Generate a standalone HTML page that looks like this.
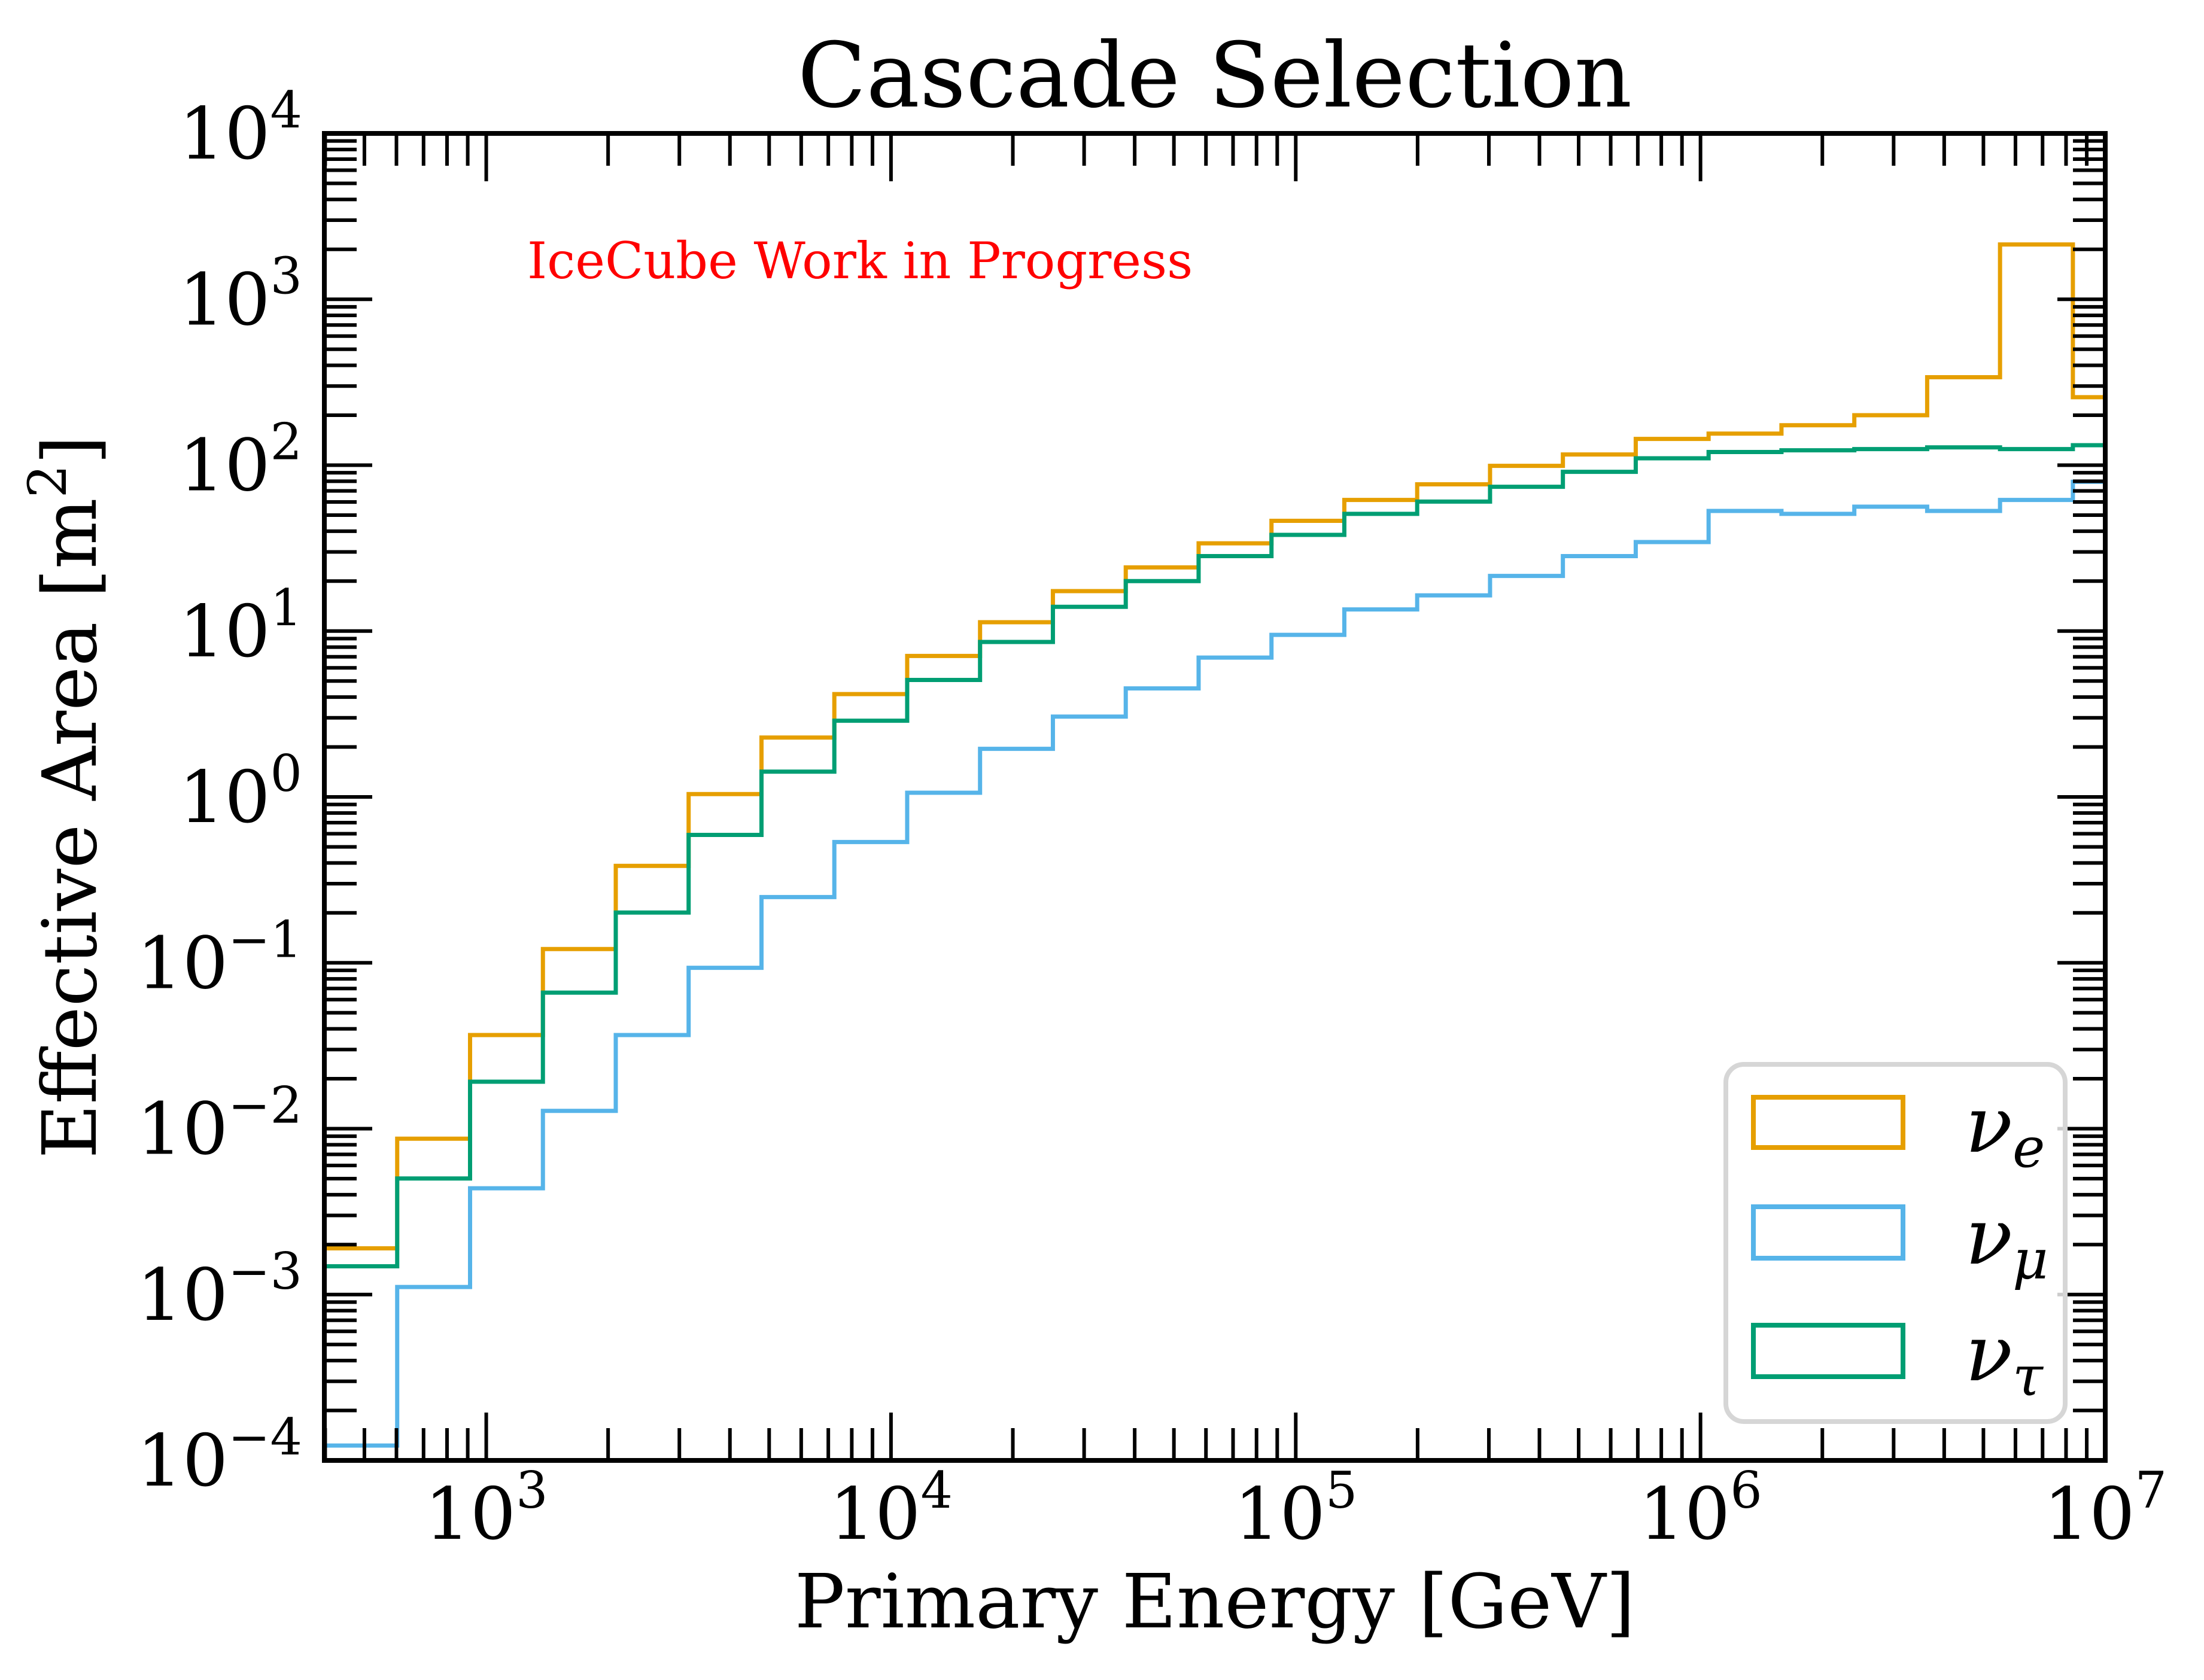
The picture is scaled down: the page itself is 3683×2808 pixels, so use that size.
<!DOCTYPE html>
<html><head><meta charset="utf-8"><style>
html,body{margin:0;padding:0;background:#fff;}
svg{display:block;font-family:"DejaVu Serif","Liberation Serif",serif;}
</style></head><body>
<svg id="chart" width="3683" height="2808" viewBox="0 0 3683 2808" xmlns="http://www.w3.org/2000/svg">
<defs><clipPath id="plotclip"><rect x="542" y="223" width="2976" height="2218"/></clipPath></defs>
<rect width="3683" height="2808" fill="#fff"/>
<text x="2030" y="178" font-size="150" text-anchor="middle">Cascade Selection</text>
<text x="881" y="465" font-size="84" fill="#ff0000">IceCube Work in Progress</text>
<g id="series" clip-path="url(#plotclip)"></g>
<g id="ticks"></g>
<rect x="542" y="223" width="2976" height="2218" fill="none" stroke="#000" stroke-width="8"/>
<text x="2030" y="2720" font-size="125" text-anchor="middle">Primary Energy [GeV]</text>
<text transform="translate(160,1332) rotate(-90)" font-size="125" text-anchor="middle">Effective Area [m<tspan font-size="88" dy="-50">2</tspan><tspan dy="50">]</tspan></text>
<g>
<rect x="2884" y="1779" width="567" height="597" rx="30" fill="#fff" fill-opacity="0.8" stroke="#d6d6d6" stroke-width="8"/>
<rect x="2930" y="1834" width="250" height="84" fill="none" stroke="#E69F00" stroke-width="8"/>
<rect x="2930" y="2017" width="250" height="86" fill="none" stroke="#56B4E9" stroke-width="8"/>
<rect x="2930" y="2215" width="250" height="86" fill="none" stroke="#009E73" stroke-width="8"/>
<text x="3284" y="1925" font-size="130" font-style="italic">ν<tspan font-size="92" dy="25">e</tspan></text>
<text x="3284" y="2112" font-size="130" font-style="italic">ν<tspan font-size="92" dy="25">μ</tspan></text>
<text x="3284" y="2307" font-size="130" font-style="italic">ν<tspan font-size="92" dy="25">τ</tspan></text>
</g>
</svg>
<script>
const binStartLog = 2.6;
const binWidthLog = 0.18;
const nuE = [0.0019,0.0087,0.0367,0.121,0.384,1.04,2.28,4.17,7.08,11.3,17.4,24.2,33.8,46.2,61.7,76.7,99.1,116,144,155,174,200,339,2140,257];
const nuMu = [0.000123,0.00111,0.00437,0.0128,0.0367,0.0933,0.249,0.535,1.06,1.95,3.05,4.51,6.92,9.48,13.5,16.4,21.5,28.3,34.4,53,50.9,56.2,53,61.7,79.4];
const nuTau = [0.00148,0.00501,0.0192,0.0661,0.201,0.59,1.42,2.88,5.07,8.59,14,20,28.3,38,50.9,60.3,74.1,91.2,110,120,123,125,128,125,132];
const xTickLabels = ["3","4","5","6","7"];
const yTickLabels = ["−4","−3","−2","−1","0","1","2","3","4"];

const X0=542,X1=3518,Y0=2441,Y1=223,XMIN=2.6,XMAX=7.0,YMIN=-4,YMAX=4;
function xs(lg){return X0+(lg-XMIN)/(XMAX-XMIN)*(X1-X0);}
function ys(v){return Y0-(Math.log10(v)-YMIN)/(YMAX-YMIN)*(Y0-Y1);}
const NS="http://www.w3.org/2000/svg";
const series=document.getElementById('series');
function drawStep(vals,color,name){
  let d="";
  vals.forEach((v,i)=>{
    const xa=xs(binStartLog+i*binWidthLog), xb=xs(binStartLog+(i+1)*binWidthLog), y=ys(v);
    d+=(i===0?"M"+xa+","+(Y0+10)+"L"+xa+","+y:"L"+xa+","+y)+"L"+xb+","+y;
  });
  const p=document.createElementNS(NS,'path');
  p.setAttribute('d',d);p.setAttribute('fill','none');p.setAttribute('stroke',color);p.setAttribute('stroke-width','7');
  
  
  series.appendChild(p);
}
drawStep(nuE,'#E69F00','series-nu-e');
drawStep(nuMu,'#56B4E9','series-nu-mu');
drawStep(nuTau,'#009E73','series-nu-tau');

const ticks=document.getElementById('ticks');
function line(x1,y1,x2,y2){
  const l=document.createElementNS(NS,'line');
  l.setAttribute('x1',x1);l.setAttribute('y1',y1);l.setAttribute('x2',x2);l.setAttribute('y2',y2);
  l.setAttribute('stroke','#000');l.setAttribute('stroke-width','6');
  
  
  ticks.appendChild(l);
}
const MAJ=80,MIN=54;
for(let e=2;e<=7;e++){
  for(let m=1;m<=9;m++){
    const lg=e+Math.log10(m); if(lg<XMIN-1e-9||lg>XMAX+1e-9) continue;
    const x=xs(lg), L=(m===1?MAJ:MIN);
    line(x,Y0,x,Y0-L); line(x,Y1,x,Y1+L);
  }
}
xTickLabels.forEach((s,i)=>{
  const x=xs(3+i);
  const t=document.createElementNS(NS,'text');
  t.setAttribute('x',x);t.setAttribute('y',2572);t.setAttribute('font-size','120');t.setAttribute('text-anchor','middle');
  t.innerHTML='10<tspan font-size="84" dy="-52">'+s+'</tspan>';
  
  
  ticks.appendChild(t);
});
for(let e=-4;e<=4;e++){
  for(let m=1;m<=9;m++){
    const lg=e+Math.log10(m); if(lg>YMAX+1e-9) continue;
    const y=ys(Math.pow(10,lg)), L=(m===1?MAJ:MIN);
    line(X0,y,X0+L,y); line(X1,y,X1-L,y);
  }
}
yTickLabels.forEach((s,i)=>{
  const y=ys(Math.pow(10,-4+i));
  const t=document.createElementNS(NS,'text');
  t.setAttribute('x',505);t.setAttribute('y',y+42);t.setAttribute('font-size','120');t.setAttribute('text-anchor','end');
  t.innerHTML='10<tspan font-size="84" dy="-52">'+s+'</tspan>';
  
  
  ticks.appendChild(t);
});
</script>
</body></html>
